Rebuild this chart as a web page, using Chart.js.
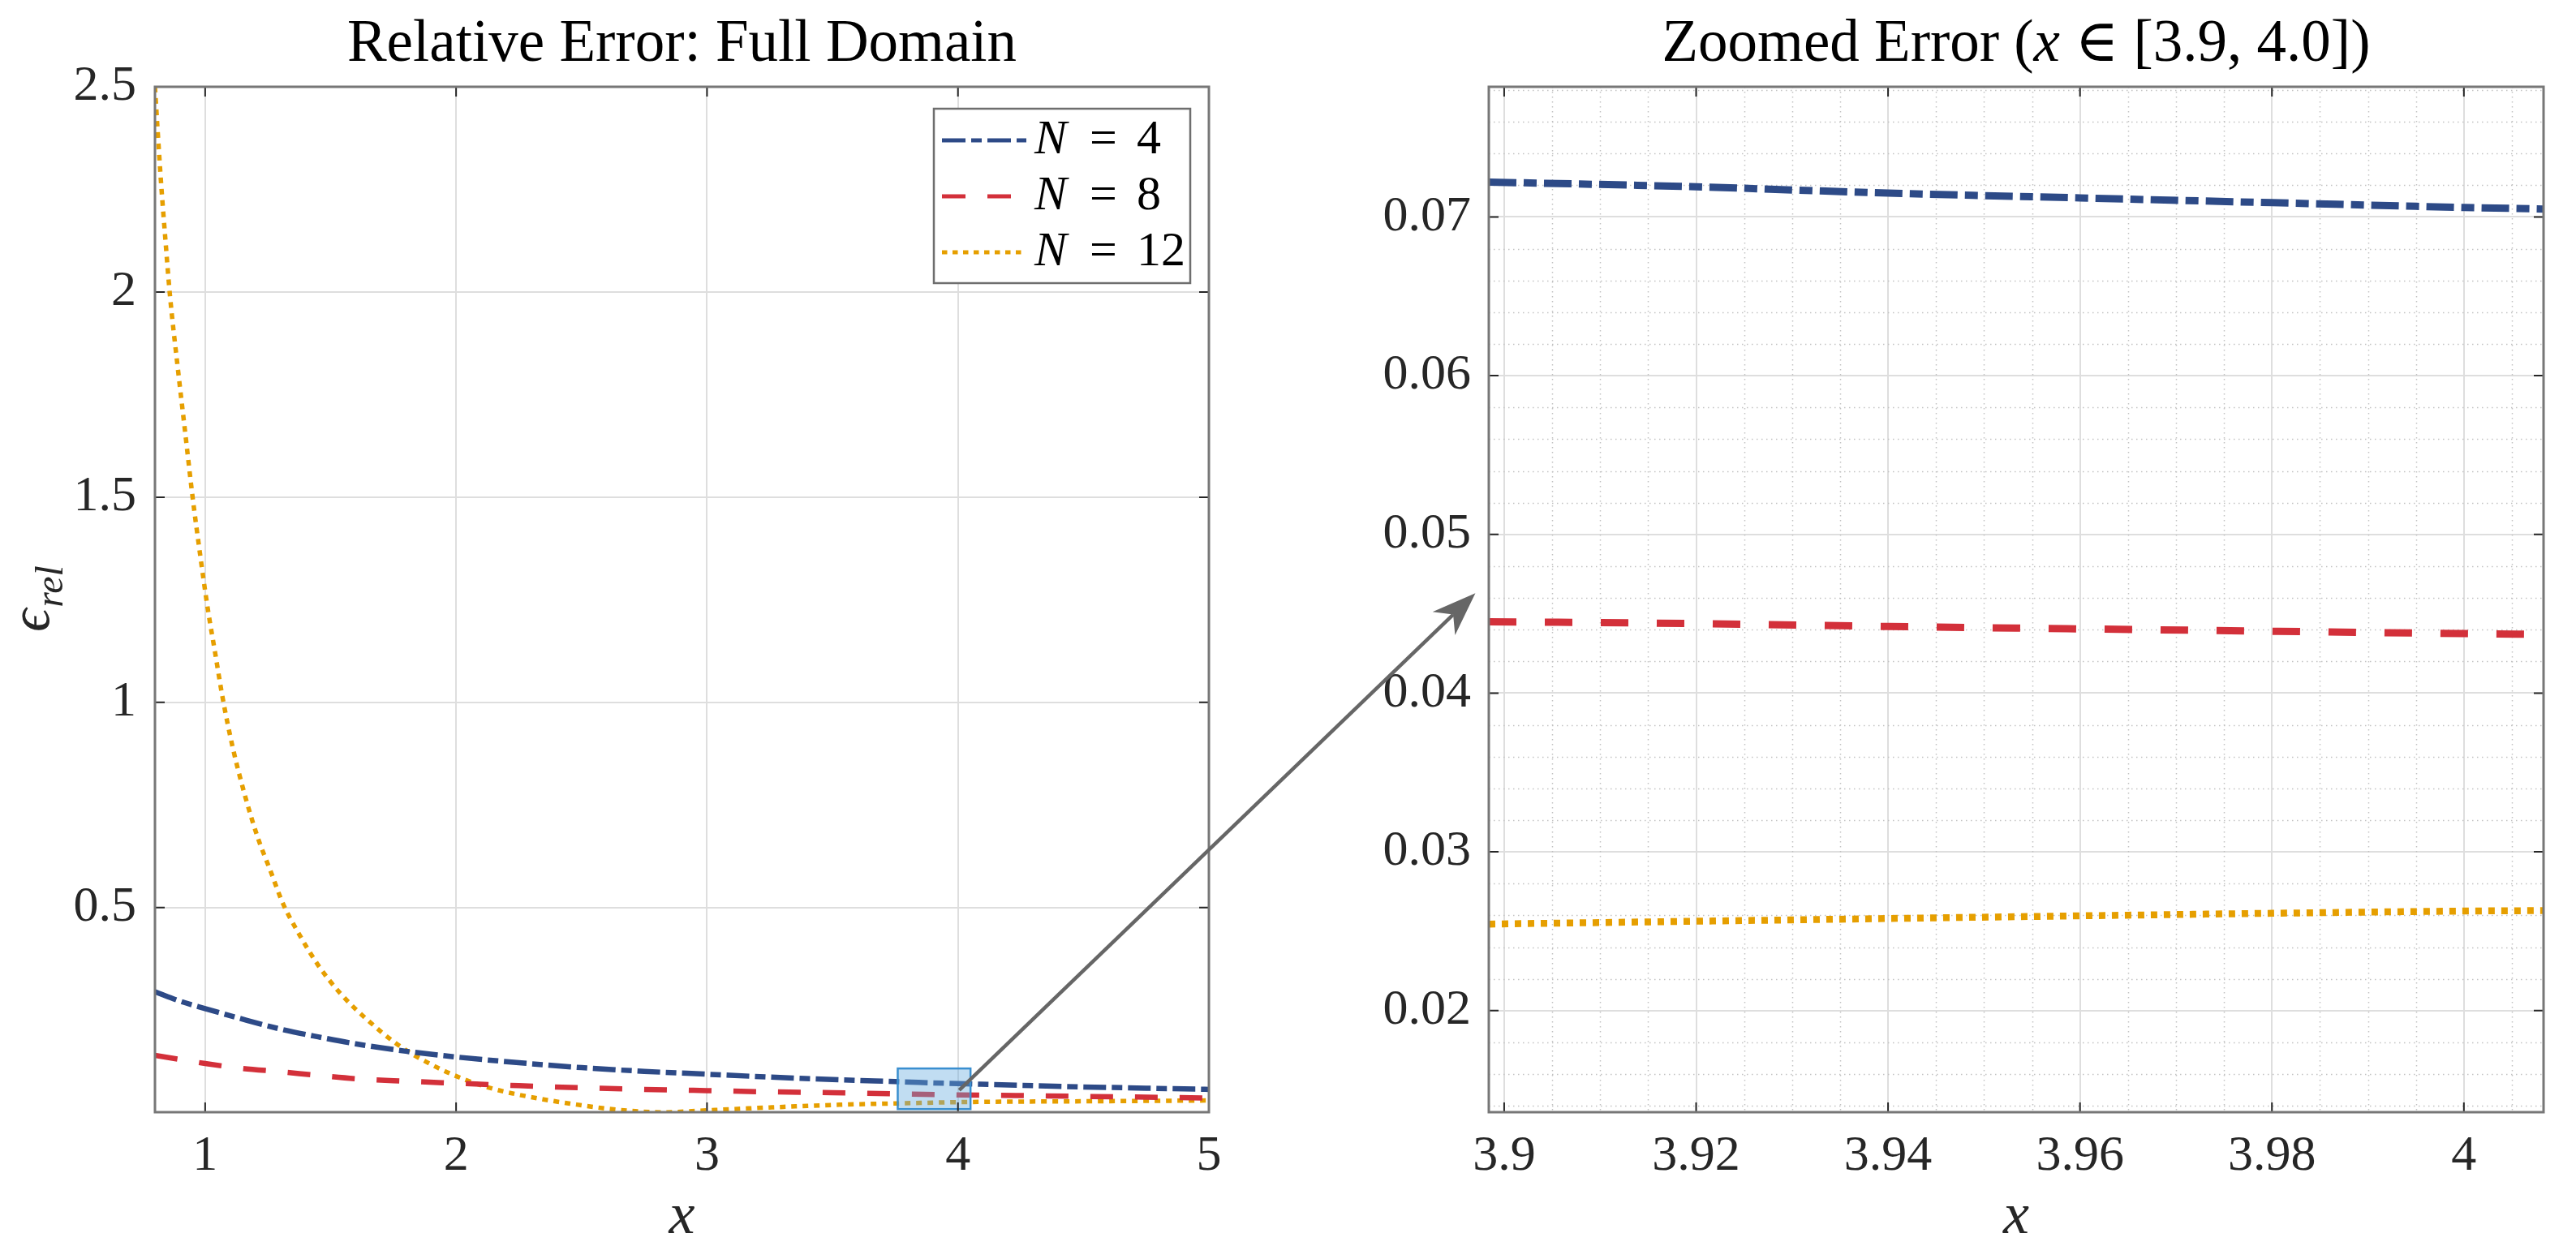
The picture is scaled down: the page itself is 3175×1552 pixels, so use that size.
<!DOCTYPE html>
<html>
<head>
<meta charset="utf-8">
<title>Relative Error</title>
<script src="https://cdn.jsdelivr.net/npm/chart.js@4.4.1/dist/chart.umd.min.js"></script>
<style>
  html, body { margin: 0; padding: 0; background: #fff; }
  #wrap { position: relative; width: 3175px; height: 1552px; overflow: hidden; }
  #wrap canvas { position: absolute; top: 0; }
  #fullChart { left: 0; }
  #zoomChart { left: 1600px; }
  #arrowLayer { left: 0; pointer-events: none; }
</style>
</head>
<body>
<div id="wrap">
  <canvas id="fullChart" width="1600" height="1552"></canvas>
  <canvas id="zoomChart" width="1575" height="1552"></canvas>
  <canvas id="arrowLayer" width="3175" height="1552"></canvas>
</div>
<script>
// left panel: full domain
const fullX = [0.8, 0.9, 1.0, 1.15, 1.3, 1.45, 1.6, 1.8, 2.0, 2.25, 2.5, 2.75, 3.0, 3.25, 3.5, 3.75, 4.0, 4.25, 4.5, 4.75, 5.0];
const fullN4 = [0.295, 0.272, 0.254, 0.228, 0.204, 0.185, 0.168, 0.150, 0.136, 0.122, 0.110, 0.101, 0.094, 0.087, 0.081, 0.076, 0.071, 0.067, 0.063, 0.060, 0.057];
const fullN8 = [0.140, 0.130, 0.120, 0.108, 0.100, 0.091, 0.083, 0.077, 0.072, 0.066, 0.061, 0.057, 0.054, 0.051, 0.049, 0.046, 0.0437, 0.042, 0.040, 0.038, 0.036];
const fullX12 = [0.80, 0.81, 0.825, 0.84, 0.86, 0.89, 0.92, 0.95, 0.98, 1.01, 1.04, 1.07, 1.11, 1.16, 1.21, 1.26, 1.31, 1.37, 1.45, 1.54, 1.64, 1.77, 1.90, 2.03, 2.15, 2.30, 2.48, 2.65, 2.82, 3.00, 3.25, 3.55, 3.85, 4.00, 4.50, 5.00];
const fullN12 = [2.50, 2.40, 2.26, 2.14, 1.99, 1.82, 1.66, 1.50, 1.36, 1.23, 1.12, 1.01, 0.89, 0.77, 0.67, 0.59, 0.51, 0.44, 0.36, 0.29, 0.23, 0.165, 0.118, 0.082, 0.058, 0.038, 0.020, 0.007, 0.001, 0.006, 0.013, 0.020, 0.024, 0.026, 0.028, 0.030];
const fullXTicks = [1, 2, 3, 4, 5];
const fullYTicks = [0.5, 1, 1.5, 2, 2.5];

// right panel: zoom
const zoomX = [3.8984, 3.92, 3.94, 3.96, 3.98, 4.0, 4.0083];
const zoomN4 = [0.0722, 0.0719, 0.0715, 0.0712, 0.0709, 0.0706, 0.0705];
const zoomN8 = [0.0445, 0.04438, 0.0442, 0.04405, 0.0439, 0.04375, 0.0437];
const zoomN12 = [0.02545, 0.02563, 0.0258, 0.02597, 0.02613, 0.02627, 0.0263];
const zoomXTicks = [3.9, 3.92, 3.94, 3.96, 3.98, 4];
const zoomYTicks = [0.02, 0.03, 0.04, 0.05, 0.06, 0.07];

const seriesLabels = ['N = 4', 'N = 8', 'N = 12'];
const fullTitle = [['Relative Error: Full Domain', false]];
const zoomTitle = [['Zoomed Error (', false], ['x', true], [' \u2208 [3.9, 4.0])', false]];

// highlight box + arrow (data units)
const boxX = [3.76, 4.05];
const boxY = [0.009, 0.108];
const arrowFrom = [4.005, 0.055];
const arrowTo = [3.897, 0.0463];

const FONT = '"Liberation Serif", "DejaVu Serif", serif';
const INK = '#262626';
const COLORS = ['#2d4a87', '#d3303a', '#e69f00'];

function richText(ctx, parts, cx, y, size) {
    let w = 0;
    parts.forEach(p => { ctx.font = (p[1] ? 'italic ' : '') + size + 'px ' + FONT; w += ctx.measureText(p[0]).width; });
    let x = cx - w / 2;
    ctx.textAlign = 'left';
    ctx.textBaseline = 'alphabetic';
    parts.forEach(p => {
        ctx.font = (p[1] ? 'italic ' : '') + size + 'px ' + FONT;
        ctx.fillText(p[0], x, y);
        x += ctx.measureText(p[0]).width;
    });
}

function lineSet(label, xs, ys, color, width, dash) {
    return {
        label: label,
        data: xs.map((x, i) => ({ x: x, y: ys[i] })),
        borderColor: color, borderWidth: width, borderDash: dash,
        pointRadius: 0, fill: false, tension: 0.4, cubicInterpolationMode: 'monotone', clip: 0
    };
}

const framePlugin = {
    id: 'frame',
    beforeDatasetsDraw(chart, args, o) {
        if (!o.minorX) return;
        const { ctx, chartArea: a, scales: { x, y } } = chart;
        ctx.save();
        ctx.strokeStyle = '#c2c2c2';
        ctx.lineWidth = 1.5;
        ctx.setLineDash([1.5, 4.5]);
        const near = (v, list) => list.some(t => Math.abs(t - v) < 1e-7);
        for (let k = Math.ceil(x.min / o.minorX); k * o.minorX <= x.max + 1e-9; k++) {
            const v = +(k * o.minorX).toFixed(6);
            if (near(v, o.xTicks)) continue;
            const px = Math.round(x.getPixelForValue(v)) + 0.5;
            ctx.beginPath(); ctx.moveTo(px, a.top); ctx.lineTo(px, a.bottom); ctx.stroke();
        }
        for (let k = Math.ceil(y.min / o.minorY); k * o.minorY <= y.max + 1e-9; k++) {
            const v = +(k * o.minorY).toFixed(6);
            if (near(v, o.yTicks)) continue;
            const py = Math.round(y.getPixelForValue(v)) + 0.5;
            ctx.beginPath(); ctx.moveTo(a.left, py); ctx.lineTo(a.right, py); ctx.stroke();
        }
        ctx.restore();
    },
    afterDatasetsDraw(chart, args, o) {
        if (!o.box) return;
        const { ctx, scales: { x, y } } = chart;
        const x0 = x.getPixelForValue(o.box[0][0]), x1 = x.getPixelForValue(o.box[0][1]);
        const y0 = y.getPixelForValue(o.box[1][1]), y1 = y.getPixelForValue(o.box[1][0]);
        ctx.save();
        ctx.fillStyle = 'rgba(100, 170, 222, 0.4)';
        ctx.fillRect(x0, y0, x1 - x0, y1 - y0);
        ctx.strokeStyle = '#3a8fd0';
        ctx.lineWidth = 2.5;
        ctx.strokeRect(x0, y0, x1 - x0, y1 - y0);
        ctx.restore();
    },
    afterDraw(chart, args, o) {
        const { ctx, chartArea: a, scales: { x, y } } = chart;
        ctx.save();
        // inward ticks on all four sides
        ctx.strokeStyle = INK;
        ctx.lineWidth = 2;
        const tl = 12;
        o.xTicks.forEach(v => {
            const px = x.getPixelForValue(v);
            ctx.beginPath();
            ctx.moveTo(px, a.bottom); ctx.lineTo(px, a.bottom - tl);
            ctx.moveTo(px, a.top); ctx.lineTo(px, a.top + tl);
            ctx.stroke();
        });
        o.yTicks.forEach(v => {
            const py = y.getPixelForValue(v);
            ctx.beginPath();
            ctx.moveTo(a.left, py); ctx.lineTo(a.left + tl, py);
            ctx.moveTo(a.right, py); ctx.lineTo(a.right - tl, py);
            ctx.stroke();
        });
        // axes box
        ctx.strokeStyle = '#777777';
        ctx.lineWidth = 3;
        ctx.strokeRect(a.left, a.top, a.right - a.left, a.bottom - a.top);

        // title
        ctx.fillStyle = '#000';
        richText(ctx, o.title, (a.left + a.right) / 2, 75, 73);

        // y label  epsilon_rel
        if (o.yLabel) {
            ctx.save();
            ctx.translate(60, (a.top + a.bottom) / 2);
            ctx.rotate(-Math.PI / 2);
            ctx.fillStyle = INK;
            ctx.textBaseline = 'alphabetic';
            ctx.font = 'italic 70px ' + FONT;
            const w1 = ctx.measureText('\u03f5').width;
            ctx.font = 'italic 48px ' + FONT;
            const w2 = ctx.measureText('rel').width;
            const sx = -(w1 + w2) / 2;
            ctx.font = 'italic 70px ' + FONT;
            ctx.fillText('\u03f5', sx, 0);
            ctx.font = 'italic 48px ' + FONT;
            ctx.fillText('rel', sx + w1 + 2, 17);
            ctx.restore();
        }

        // legend box inside the axes
        if (o.legend) {
            const lw = 316, lh = 215;
            const lx = a.right - 23 - lw, ly = a.top + 27;
            ctx.fillStyle = '#fff';
            ctx.fillRect(lx, ly, lw, lh);
            ctx.strokeStyle = '#6e6e6e';
            ctx.lineWidth = 2.5;
            ctx.strokeRect(lx, ly, lw, lh);
            chart.data.datasets.forEach((ds, i) => {
                const ry = ly + 39 + i * 69;
                ctx.save();
                ctx.strokeStyle = ds.borderColor;
                ctx.lineWidth = 5;
                ctx.setLineDash(o.legend.dashes[i]);
                ctx.beginPath(); ctx.moveTo(lx + 10, ry); ctx.lineTo(lx + 114, ry); ctx.stroke();
                ctx.restore();
                const parts = ds.label.split(' ');
                ctx.fillStyle = '#000';
                ctx.textAlign = 'left';
                ctx.textBaseline = 'alphabetic';
                ctx.font = 'italic 60px ' + FONT;
                ctx.fillText(parts[0], lx + 124, ry + 16);
                ctx.font = '60px ' + FONT;
                ctx.fillText(parts[1], lx + 192, ry + 16);
                ctx.fillText(parts[2], lx + 250, ry + 16);
            });
        }
        ctx.restore();
    }
};

function axisOptions(min, max, ticks, size, isX, pad) {
    const opt = {
        type: 'linear', min: min, max: max,
        afterBuildTicks: s => { s.ticks = ticks.map(v => ({ value: v })); },
        grid: { color: '#dedede', lineWidth: 2, drawTicks: false },
        border: { display: false },
        ticks: {
            autoSkip: false, maxRotation: 0, padding: pad, color: INK,
            font: { family: FONT, size: 62 },
            callback: v => String(v)
        }
    };
    if (isX) {
        opt.afterFit = s => { s.height = size; };
        opt.title = { display: true, text: 'x', color: INK, font: { family: FONT, size: 72, style: 'italic' }, padding: { top: 0, bottom: 8 } };
    } else {
        opt.afterFit = s => { s.width = size; };
    }
    return opt;
}

const fullChart = new Chart(document.getElementById('fullChart'), {
    type: 'line',
    data: {
        datasets: [
            lineSet(seriesLabels[0], fullX, fullN4, COLORS[0], 6.5, [28, 7, 13, 7]),
            lineSet(seriesLabels[1], fullX, fullN8, COLORS[1], 6.5, [28, 27]),
            lineSet(seriesLabels[2], fullX12, fullN12, COLORS[2], 5.5, [7, 7])
        ]
    },
    options: {
        responsive: false, animation: false, devicePixelRatio: 1,
        layout: { padding: { left: 0, right: 110, top: 107, bottom: 0 } },
        plugins: {
            legend: { display: false }, tooltip: { enabled: false }, title: { display: false },
            frame: {
                xTicks: fullXTicks, yTicks: fullYTicks, title: fullTitle, yLabel: true,
                box: [boxX, boxY],
                legend: { dashes: [[29, 7, 13, 7], [29, 27], [6.5, 6.5]] }
            }
        },
        scales: {
            x: axisOptions(0.8, 5, fullXTicks, 181, true, 18),
            y: axisOptions(0.0015, 2.5, fullYTicks, 191, false, 23)
        }
    },
    plugins: [framePlugin]
});

const zoomChart = new Chart(document.getElementById('zoomChart'), {
    type: 'line',
    data: {
        datasets: [
            lineSet(seriesLabels[0], zoomX, zoomN4, COLORS[0], 9, [34, 9, 16, 9]),
            lineSet(seriesLabels[1], zoomX, zoomN8, COLORS[1], 9, [34, 35]),
            lineSet(seriesLabels[2], zoomX, zoomN12, COLORS[2], 8.5, [8, 8])
        ]
    },
    options: {
        responsive: false, animation: false, devicePixelRatio: 1,
        layout: { padding: { left: 0, right: 40, top: 107, bottom: 0 } },
        plugins: {
            legend: { display: false }, tooltip: { enabled: false }, title: { display: false },
            frame: { xTicks: zoomXTicks, yTicks: zoomYTicks, title: zoomTitle, minorX: 0.005, minorY: 0.002 }
        },
        scales: {
            x: axisOptions(3.8984, 4.0083, zoomXTicks, 181, true, 18),
            y: axisOptions(0.0136, 0.0782, zoomYTicks, 235, false, 22)
        }
    },
    plugins: [framePlugin]
});

// arrow from the highlight box to the zoomed panel
function drawArrow() {
    const ctx = document.getElementById('arrowLayer').getContext('2d');
    const zoomLeft = document.getElementById('zoomChart').offsetLeft;
    const x0 = fullChart.scales.x.getPixelForValue(arrowFrom[0]);
    const y0 = fullChart.scales.y.getPixelForValue(arrowFrom[1]);
    const x1 = zoomLeft + zoomChart.scales.x.getPixelForValue(arrowTo[0]);
    const y1 = zoomChart.scales.y.getPixelForValue(arrowTo[1]);
    const len = Math.hypot(x1 - x0, y1 - y0);
    const ux = (x1 - x0) / len, uy = (y1 - y0) / len;
    const nx = -uy, ny = ux;
    const hl = 54, hw = 20, notch = 38;
    ctx.strokeStyle = '#666666';
    ctx.fillStyle = '#666666';
    ctx.lineWidth = 4.5;
    ctx.beginPath();
    ctx.moveTo(x0, y0);
    ctx.lineTo(x1 - ux * notch, y1 - uy * notch);
    ctx.stroke();
    ctx.beginPath();
    ctx.moveTo(x1, y1);
    ctx.lineTo(x1 - ux * hl + nx * hw, y1 - uy * hl + ny * hw);
    ctx.lineTo(x1 - ux * notch, y1 - uy * notch);
    ctx.lineTo(x1 - ux * hl - nx * hw, y1 - uy * hl - ny * hw);
    ctx.closePath();
    ctx.fill();
}
drawArrow();
</script>
</body>
</html>
